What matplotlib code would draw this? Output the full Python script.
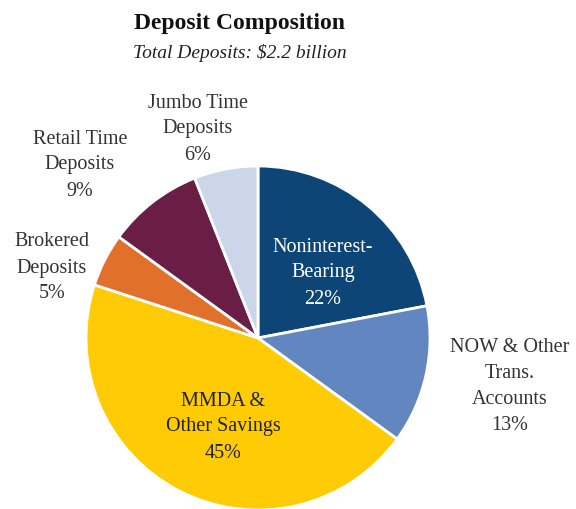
import matplotlib
matplotlib.use("Agg")
import matplotlib.pyplot as plt

plt.rcParams['font.family'] = ['Liberation Serif', 'DejaVu Serif']

# data
categories = ['Noninterest-\nBearing', 'NOW & Other\nTrans.\nAccounts', 'MMDA &\nOther Savings',
              'Brokered\nDeposits', 'Retail Time\nDeposits', 'Jumbo Time\nDeposits']
shares = [22, 13, 45, 5, 9, 6]
colors = ['#0d4577', '#6286bf', '#ffcb05', '#e0702a', '#6a1e45', '#ccd6ea']
text_colors = ['white', '#333333', '#222222', '#333333', '#333333', '#333333']
# label centres in pixels (x, y from top)
label_pos = [(323, 273), (510, 386), (223, 427), (52, 268), (80, 165), (198, 129)]

W, H = 576, 509
fig = plt.figure(figsize=(W / 100, H / 100), dpi=100)

cx, cy, r = 258, 338, 172
ax = fig.add_axes([(cx - r) / W, (H - cy - r) / H, 2 * r / W, 2 * r / H])
ax.pie(shares, colors=colors, startangle=90, counterclock=False,
       wedgeprops=dict(edgecolor='white', linewidth=2))
ax.set_xlim(-1, 1)
ax.set_ylim(-1, 1)
ax.set_aspect('equal')
ax.axis('off')

for name, val, (px, py), tc in zip(categories, shares, label_pos, text_colors):
    fig.text(px / W, 1 - py / H, f'{name}\n{val}%', ha='center', va='center',
             fontsize=14.5, color=tc, linespacing=1.5)

fig.text(240 / W, 1 - 24 / H, 'Deposit Composition', ha='center', va='center',
         fontsize=17, fontweight='bold', color='#111111')
fig.text(240 / W, 1 - 53 / H, 'Total Deposits: $2.2 billion', ha='center', va='center',
         fontsize=14, style='italic', color='#222222')

fig.savefig('out.png', dpi=100)
